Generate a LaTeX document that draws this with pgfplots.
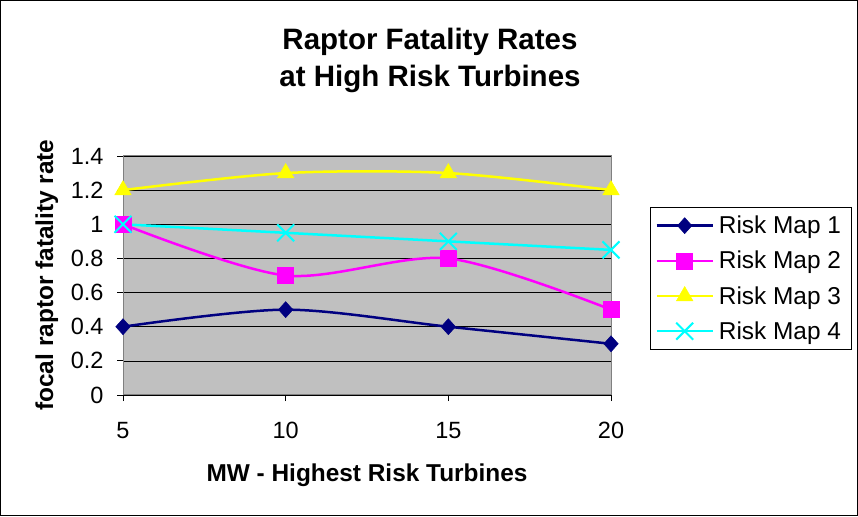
\documentclass[border=0pt]{standalone}
\usepackage{pgfplots}
\pgfplotsset{compat=1.18}
\usepackage{fontspec}
\setmainfont{Liberation Sans}
\definecolor{plotgray}{HTML}{C0C0C0}
\definecolor{navy}{HTML}{000080}
\definecolor{rmmag}{HTML}{FF00FF}
\definecolor{rmyel}{HTML}{FFFF00}
\definecolor{rmcyan}{HTML}{00FFFF}
\begin{document}
\begin{tikzpicture}[x=1pt,y=1pt]
\useasboundingbox (0,0) rectangle (858,516);
\draw[black, line width=1pt] (0.5,0.5) rectangle (857.5,515.5);
\node[font=\fontsize{29.5}{37}\selectfont\bfseries, align=center] at (430,455.5) {Raptor Fatality Rates\\at High Risk Turbines};
\begin{axis}[
  at={(123pt,121pt)}, anchor=south west,
  scale only axis, width=488pt, height=239pt,
  xmin=5, xmax=20, ymin=0, ymax=1.4,
  xtick={5,10,15,20},
  ytick={0,0.2,0.4,0.6,0.8,1,1.2,1.4},
  yticklabels={0,0.2,0.4,0.6,0.8,1,1.2,1.4},
  xtick pos=bottom, ytick pos=left,
  tick align=outside, major tick length=6pt,
  tick style={black, line width=0.8pt},
  axis line style={draw=gray, line width=1pt},
  axis background/.style={fill=plotgray},
  ymajorgrids, grid style={black, line width=0.7pt},
  ticklabel style={font=\fontsize{23.5}{27}\selectfont},
  /pgf/number format/assume math mode=true,
  xticklabel style={yshift=-18pt},
  yticklabel style={xshift=-10pt},
  xlabel={MW - Highest Risk Turbines},
  ylabel={focal raptor fatality rate},
  label style={font=\fontsize{24.4}{28}\selectfont\bfseries},
  xlabel style={at={(axis description cs:0.5,-0.335)}, anchor=center},
  ylabel style={at={(axis description cs:-0.156,0.502)}, anchor=center, rotate=0},
  clip=false,
  legend cell align=left,
  legend style={at={(axis description cs:1.08,0.788)}, anchor=north west,
    draw=black, fill=white, line width=0.8pt,
    font=\fontsize{24.4}{28}\selectfont, row sep=12pt, inner ysep=7pt, inner xsep=5pt,
    nodes={inner xsep=5pt}},
  legend image code/.code={\draw[mark repeat=2,mark phase=2] plot coordinates {(0pt,0pt) (28pt,0pt) (56pt,0pt)};},
]
\addplot[navy, line width=2.5pt, smooth, tension=0.5, mark=diamond*, mark size=8pt, mark options={fill=navy, draw=navy, line width=0.5pt, xscale=1.2}]
  coordinates {(5,0.4) (10,0.5) (15,0.4) (20,0.3)};
\addlegendentry{Risk Map 1}
\addplot[rmmag, line width=2.5pt, smooth, tension=0.5, mark=square*, mark size=8pt, mark options={fill=rmmag, draw=rmmag, line width=0.5pt}]
  coordinates {(5,1.0) (10,0.7) (15,0.8) (20,0.5)};
\addlegendentry{Risk Map 2}
\addplot[rmyel, line width=2.5pt, smooth, tension=0.5, mark=triangle*, mark size=9.5pt, mark options={fill=rmyel, draw=rmyel, line width=0.5pt}]
  coordinates {(5,1.2) (10,1.3) (15,1.3) (20,1.2)};
\addlegendentry{Risk Map 3}
\addplot[rmcyan, line width=2.5pt, smooth, tension=0.5, mark=x, mark size=12pt, mark options={draw=rmcyan, line width=2pt}]
  coordinates {(5,1.0) (10,0.95) (15,0.9) (20,0.85)};
\addlegendentry{Risk Map 4}
\end{axis}
\end{tikzpicture}
\end{document}
